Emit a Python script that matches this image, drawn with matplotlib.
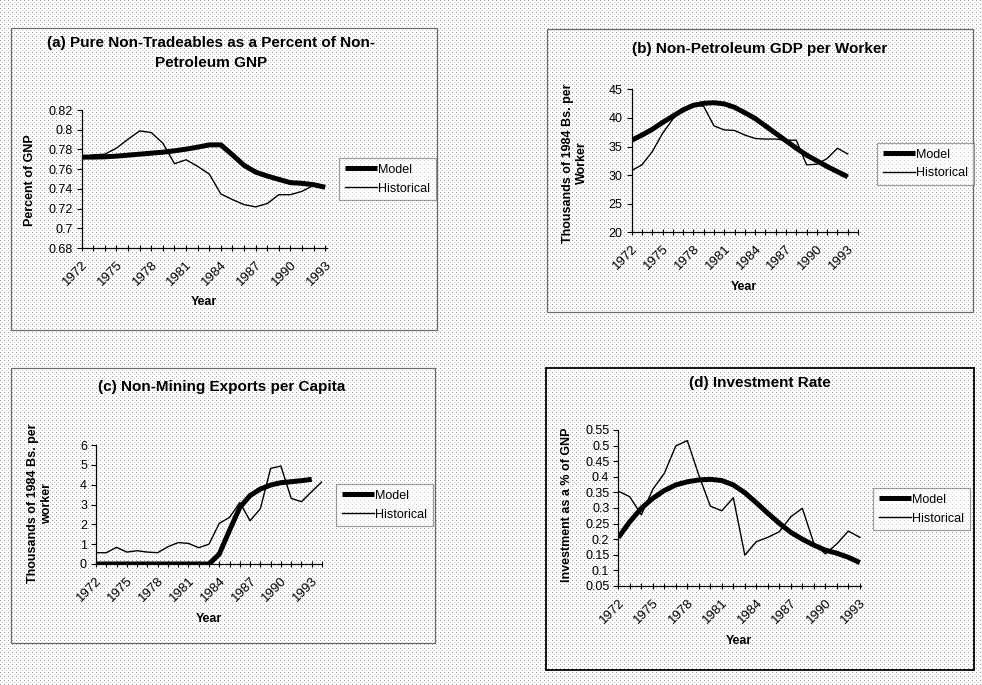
import numpy as np
import matplotlib
matplotlib.use("Agg")
import matplotlib.pyplot as plt
from matplotlib.patches import Rectangle
from matplotlib.ticker import FixedLocator, FixedFormatter

plt.rcParams['font.family'] = ['Liberation Sans', 'DejaVu Sans']

# ---- data ---------------------------------------------------------------
years = [1972, 1973, 1974, 1975, 1976, 1977, 1978, 1979, 1980, 1981, 1982,
         1983, 1984, 1985, 1986, 1987, 1988, 1989, 1990, 1991, 1992, 1993, 1994]
label_years = [1972, 1975, 1978, 1981, 1984, 1987, 1990, 1993]

# (a) pure non-tradeables share of non-petroleum GNP
a_model = [0.7722, 0.7722, 0.7725, 0.7732, 0.7742, 0.7752, 0.7762, 0.7772,
           0.7786, 0.7803, 0.7823, 0.7846, 0.7846, 0.7745, 0.7638, 0.7570,
           0.7530, 0.7496, 0.7463, 0.7456, 0.7442, 0.7416]
a_hist = [0.7722, 0.7745, 0.7752, 0.7813, 0.7904, 0.7988, 0.7971, 0.7863,
          0.7655, 0.7695, 0.7628, 0.7550, 0.7348, 0.7291, 0.7240, 0.7217,
          0.7251, 0.7341, 0.7341, 0.7375, 0.7436]
a_yticks = [0.68, 0.70, 0.72, 0.74, 0.76, 0.78, 0.80, 0.82]
a_ylabels = ['0.68', '0.7', '0.72', '0.74', '0.76', '0.78', '0.8', '0.82']

# (b) non-petroleum GDP per worker (thousands of 1984 Bs.)
b_model = [36.1, 37.0, 38.0, 39.2, 40.3, 41.4, 42.2, 42.55, 42.65, 42.45,
           41.85, 40.9, 39.9, 38.6, 37.3, 36.0, 34.7, 33.5, 32.5, 31.5,
           30.6, 29.7]
b_hist = [30.8, 31.8, 34.1, 37.3, 39.8, 41.7, 42.4, 42.0, 38.6, 37.9, 37.8,
          37.0, 36.4, 36.3, 36.3, 36.1, 36.1, 31.8, 31.9, 32.9, 34.7, 33.7]
b_yticks = [20, 25, 30, 35, 40, 45]

# (c) non-mining exports per capita (thousands of 1984 Bs.)
c_model = [0, 0, 0, 0, 0, 0, 0, 0, 0, 0, 0, 0, 0.5, 1.7, 2.85, 3.45, 3.78,
           3.98, 4.1, 4.15, 4.2, 4.27]
c_hist = [0.57, 0.57, 0.84, 0.60, 0.67, 0.60, 0.57, 0.87, 1.08, 1.04, 0.82,
          1.0, 2.05, 2.35, 3.1, 2.18, 2.79, 4.82, 4.94, 3.31, 3.14, 3.65, 4.15]
c_yticks = [0, 1, 2, 3, 4, 5, 6]

# (d) investment rate (share of GNP)
d_model = [0.205, 0.256, 0.299, 0.331, 0.356, 0.374, 0.384, 0.390, 0.392,
           0.388, 0.374, 0.349, 0.317, 0.283, 0.251, 0.222, 0.200, 0.181,
           0.165, 0.155, 0.142, 0.125]
d_hist = [0.354, 0.336, 0.278, 0.360, 0.411, 0.499, 0.516, 0.405, 0.306,
          0.291, 0.333, 0.149, 0.192, 0.206, 0.224, 0.272, 0.299, 0.187,
          0.153, 0.185, 0.226, 0.206]
d_yticks = [0.05, 0.10, 0.15, 0.20, 0.25, 0.30, 0.35, 0.40, 0.45, 0.50, 0.55]
d_ylabels = ['0.05', '0.1', '0.15', '0.2', '0.25', '0.3', '0.35', '0.4',
             '0.45', '0.5', '0.55']

# ---- figure -------------------------------------------------------------
W, H = 982, 685
fig = plt.figure(figsize=(W / 100, H / 100), dpi=100, facecolor='white')

# halftone dot screen behind everything
yy, xx = np.mgrid[0:H, 0:W]
screen = np.ones((H, W, 3))
screen[(yy % 4 == 0) & (xx % 4 == 0)] = 0.62
screen[(yy % 4 == 2) & (xx % 4 == 2)] = 0.78
fig.figimage(screen, xo=0, yo=0, zorder=-10)


def fx(px):
    return px / W


def fy(py):
    return 1 - py / H


def frame(x0, y0, x1, y1, color, lw):
    fig.patches.append(Rectangle((fx(x0), fy(y1)), fx(x1) - fx(x0),
                                 fy(y0) - fy(y1), transform=fig.transFigure,
                                 facecolor='none', edgecolor=color, lw=lw,
                                 zorder=-5))


def panel(x0, y_top, x1, y_bot, xmax, ylim, yticks, ylabels, model, hist,
          legend_box):
    ax = fig.add_axes([fx(x0), fy(y_bot), fx(x1) - fx(x0), fy(y_top) - fy(y_bot)])
    ax.set_zorder(2)
    ax.patch.set_visible(False)
    ax.plot(years[:len(hist)], hist, color='black', lw=1.0, zorder=3,
            label='Historical')
    ax.plot(years[:len(model)], model, color='black', lw=3.6, zorder=4,
            solid_capstyle='butt', label='Model')
    ax.set_xlim(1972, xmax)
    ax.set_ylim(*ylim)
    for s in ('top', 'right'):
        ax.spines[s].set_visible(False)
    for s in ('left', 'bottom'):
        ax.spines[s].set_linewidth(0.9)
    ax.yaxis.set_major_locator(FixedLocator(yticks))
    ax.yaxis.set_major_formatter(FixedFormatter(ylabels))
    ax.tick_params(axis='y', direction='out', length=3.5, width=0.8,
                   labelsize=9, pad=3)
    ax.xaxis.set_major_locator(FixedLocator(label_years))
    ax.xaxis.set_minor_locator(FixedLocator(years[:int(round(xmax - 1972)) + 1]))
    ax.set_xticklabels([str(y) for y in label_years])
    ax.tick_params(axis='x', which='both', direction='inout', length=5,
                   width=0.8, labelsize=9.5, pad=5)
    for lab in ax.get_xticklabels():
        lab.set_rotation(45)
        lab.set_ha('right')
        lab.set_va('top')
        lab.set_rotation_mode('anchor')
    handles, labels = ax.get_legend_handles_labels()
    lx, ly = legend_box
    leg = ax.legend(handles[::-1], labels[::-1], loc='upper left',
                    bbox_to_anchor=(fx(lx), fy(ly)), bbox_transform=fig.transFigure,
                    borderaxespad=0, fontsize=9, handlelength=2.6,
                    handletextpad=0.1, labelspacing=0.55, borderpad=0.45,
                    fancybox=False, frameon=True)
    leg.get_frame().set_edgecolor('#444444')
    leg.get_frame().set_linewidth(0.9)
    leg.get_frame().set_facecolor('white')
    leg.get_frame().set_alpha(0.5)
    return ax


# chart-area borders
frame(11, 28, 437, 330, '#6a6a6a', 0.9)
frame(547, 29, 973, 312, '#6a6a6a', 0.9)
frame(11, 368, 435, 643, '#6a6a6a', 0.9)
frame(546, 368, 974, 670, '#111111', 1.4)

panel(81.7, 110, 327, 248, 1993.15, (0.68, 0.82), a_yticks, a_ylabels,
      a_model, a_hist, (339, 158))
panel(631.7, 89.3, 858, 232.3, 1994, (20, 45), b_yticks,
      [str(v) for v in b_yticks], b_model, b_hist, (877, 143))
panel(96, 445, 322, 564, 1994, (0, 6), c_yticks,
      [str(v) for v in c_yticks], c_model, c_hist, (336, 484))
panel(618.3, 430, 861, 586, 1993.1, (0.05, 0.55), d_yticks, d_ylabels,
      d_model, d_hist, (873, 488))

bold = dict(fontweight='bold', ha='center', va='center')

# titles
fig.text(fx(211), fy(43), '(a) Pure Non-Tradeables as a Percent of Non-',
         fontsize=11, **bold)
fig.text(fx(211), fy(63), 'Petroleum GNP', fontsize=11, **bold)
fig.text(fx(760), fy(49), '(b) Non-Petroleum GDP per Worker', fontsize=11, **bold)
fig.text(fx(222), fy(387), '(c) Non-Mining Exports per Capita', fontsize=11, **bold)
fig.text(fx(760), fy(383), '(d) Investment Rate', fontsize=11, **bold)

# axis titles
fig.text(fx(30), fy(180), 'Percent of GNP', rotation=90, fontsize=9, **bold)
fig.text(fx(575), fy(163), 'Thousands of 1984 Bs. per\nWorker', rotation=90,
         fontsize=9, linespacing=1.3, **bold)
fig.text(fx(40), fy(503), 'Thousands of 1984 Bs. per\nworker', rotation=90,
         fontsize=9, linespacing=1.3, **bold)
fig.text(fx(567), fy(505), 'Investment as a % of GNP', rotation=90,
         fontsize=9, **bold)

fig.text(fx(204), fy(302), 'Year', fontsize=9, **bold)
fig.text(fx(744), fy(287), 'Year', fontsize=9, **bold)
fig.text(fx(209), fy(619), 'Year', fontsize=9, **bold)
fig.text(fx(739), fy(641), 'Year', fontsize=9, **bold)

fig.savefig('out.png', dpi=100, facecolor='white')
